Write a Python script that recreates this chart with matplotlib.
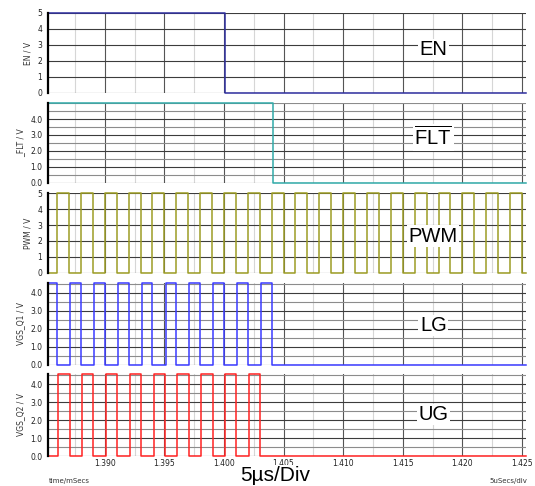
import matplotlib
matplotlib.use("Agg")
import matplotlib.pyplot as plt

plt.rcParams['font.family'] = ['DejaVu Sans']
plt.rcParams['mathtext.fontset'] = 'custom'
plt.rcParams['mathtext.rm'] = 'Liberation Sans'

# time window in ms
t_start = 1.38524
t_end = 1.42534

# edge times (ms)
en_fall = [1.4001]
flt_fall = [1.4041]
pwm_rise = [1.386, 1.388, 1.390, 1.392, 1.394, 1.396, 1.398, 1.400, 1.402, 1.404,
            1.406, 1.408, 1.410, 1.412, 1.414, 1.416, 1.418, 1.420, 1.422, 1.424]
pwm_fall = [1.387, 1.389, 1.391, 1.393, 1.395, 1.397, 1.399, 1.401, 1.403, 1.405,
            1.407, 1.409, 1.411, 1.413, 1.415, 1.417, 1.419, 1.421, 1.423, 1.425]
lg_fall = [1.386, 1.388, 1.390, 1.392, 1.394, 1.396, 1.398, 1.400, 1.402, 1.404]
lg_rise = [1.3871, 1.3891, 1.3911, 1.3931, 1.3951, 1.3971, 1.3991, 1.4011, 1.4031]
ug_rise = [1.3861, 1.3881, 1.3901, 1.3921, 1.3941, 1.3961, 1.3981, 1.4001, 1.4021]
ug_fall = [1.38705, 1.38905, 1.39105, 1.39305, 1.39505, 1.39705, 1.39905, 1.40105, 1.40305]

# logic levels (V)
en_high = 5.0
flt_high = 5.0
pwm_high = 5.0
gate_high = 4.57

x_major = [1.390, 1.395, 1.400, 1.405, 1.410, 1.415, 1.420, 1.425]
x_minor = [1.3875, 1.3925, 1.3975, 1.4025, 1.4075, 1.4125, 1.4175, 1.4225]
x_labels = ["1.390", "1.395", "1.400", "1.405", "1.410", "1.415", "1.420", "1.425"]


def waveform(start_level, high, rises, falls):
    edges = sorted([(t, high) for t in rises] + [(t, 0.0) for t in falls])
    ts = [t_start] + [e[0] for e in edges]
    vs = [start_level] + [e[1] for e in edges]
    ts.append(t_end)
    vs.append(vs[-1])
    return ts, vs


panels = [
    dict(ylabel="EN / V", top=en_high, ticks=[0, 1, 2, 3, 4, 5], fmt="{:.0f}", minor=[],
         color="#2e2e9e", wave=waveform(en_high, en_high, [], en_fall),
         label="EN", lab_y=0.475, box=(13, 93)),
    dict(ylabel="_FLT / V", top=5.03, ticks=[0, 1, 2, 3, 4], fmt="{:.1f}",
         minor=[0.5, 1.5, 2.5, 3.5, 4.5, 5.0],
         color="#30aaa8", wave=waveform(flt_high, flt_high, [], flt_fall),
         label=r"$\overline{\mathrm{FLT}}$", lab_y=0.47, box=(102.7, 182.7)),
    dict(ylabel="PWM / V", top=pwm_high, ticks=[0, 1, 2, 3, 4, 5], fmt="{:.0f}", minor=[],
         color="#9c9c24", wave=waveform(0.0, pwm_high, pwm_rise, pwm_fall),
         label="PWM", lab_y=0.39, box=(193.3, 272.7)),
    dict(ylabel="VGS_Q1 / V", top=gate_high, ticks=[0, 1, 2, 3, 4], fmt="{:.1f}",
         minor=[0.5, 1.5, 2.5, 3.5, 4.5],
         color="#3a3aff", wave=waveform(gate_high, gate_high, lg_rise, lg_fall),
         label="LG", lab_y=0.413, box=(282.7, 365)),
    dict(ylabel="VGS_Q2 / V", top=gate_high, ticks=[0, 1, 2, 3, 4], fmt="{:.1f}",
         minor=[0.5, 1.5, 2.5, 3.5, 4.5],
         color="#ff2222", wave=waveform(0.0, gate_high, ug_rise, ug_fall),
         label="UG", lab_y=0.44, box=(374, 456)),
]

W, H = 535, 486
fig = plt.figure(figsize=(W / 100, H / 100), dpi=100)

left_px, right_px = 48, 526
for i, p in enumerate(panels):
    top_px, bot_px = p["box"]
    ax = fig.add_axes([left_px / W, 1 - bot_px / H, (right_px - left_px) / W, (bot_px - top_px) / H])
    ax.set_xlim(t_start, t_end)
    ax.set_ylim(0, p["top"])

    for side in ("top", "right", "bottom"):
        ax.spines[side].set_visible(False)
    ax.spines["left"].set_color("black")
    ax.spines["left"].set_linewidth(1.6)
    ax.spines["left"].set_zorder(4)

    ax.set_xticks(x_major)
    ax.set_xticks(x_minor, minor=True)
    ax.set_yticks(p["ticks"])
    ax.set_yticks(p["minor"], minor=True)
    ax.set_yticklabels([p["fmt"].format(v) for v in p["ticks"]])
    ax.grid(which="major", axis="x", color="#555555", lw=0.8)
    ax.grid(which="minor", axis="x", color="#d6d6d6", lw=0.8)
    ax.grid(which="major", axis="y", color="#3c3c3c", lw=0.8)
    ax.grid(which="minor", axis="y", color="#8c8c8c", lw=0.8)
    ax.set_axisbelow(True)
    ax.tick_params(which="both", length=0, labelsize=5.5, colors="#222222", pad=4)
    if i == len(panels) - 1:
        ax.set_xticklabels(x_labels)
        ax.tick_params(axis="x", pad=2)
    else:
        ax.tick_params(axis="x", labelbottom=False)

    ax.set_ylabel(p["ylabel"], fontsize=5.5, color="#333333", labelpad=4)

    ts, vs = p["wave"]
    ax.plot(ts, vs, drawstyle="steps-post", color=p["color"], lw=1.1, clip_on=False, zorder=3)

    ax.text(0.806, p["lab_y"], p["label"], transform=ax.transAxes, fontsize=14.5,
            family="Liberation Sans", ha="center", va="baseline", zorder=5,
            bbox=dict(facecolor="white", edgecolor="none", pad=1))

fig.text(49 / W, 1 - 481 / H, "time/mSecs", fontsize=5, color="#333333", va="center", ha="left")
fig.text(527 / W, 1 - 481 / H, "5uSecs/div", fontsize=5, color="#333333", va="center", ha="right")
fig.text(275 / W, 1 - 475 / H, "5µs/Div", fontsize=15, family="Liberation Sans",
         ha="center", va="center",
         bbox=dict(facecolor="white", edgecolor="none", pad=0.5))

fig.savefig("out.png", dpi=100)
